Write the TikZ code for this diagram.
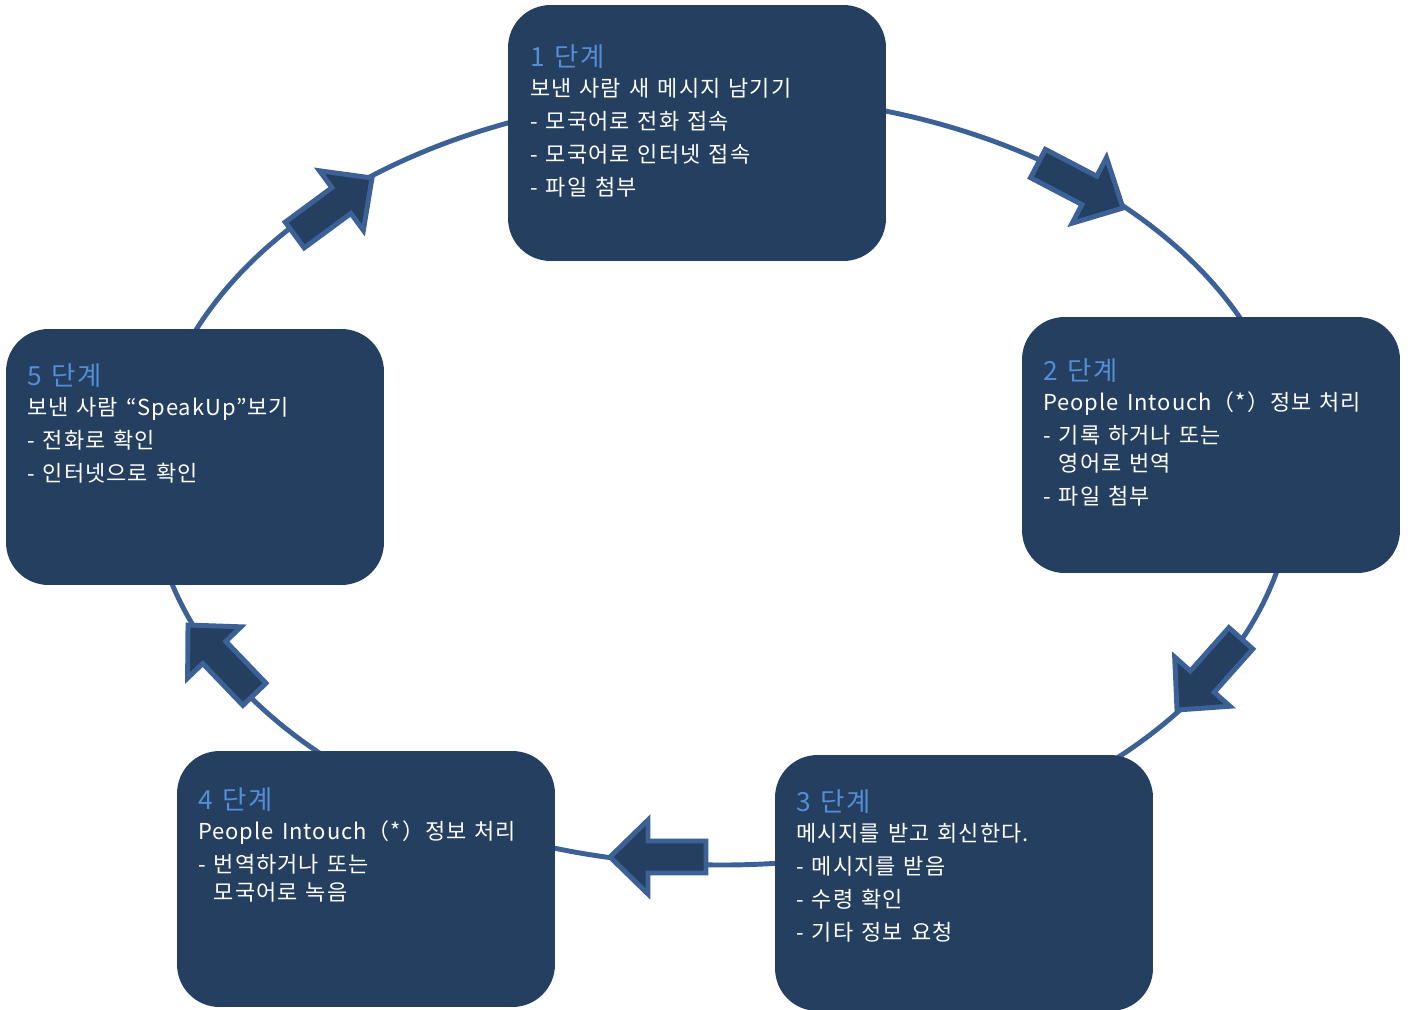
\documentclass[tikz,border=0pt]{standalone}
\usepackage{fontspec}
\setmainfont{Noto Sans CJK KR}[LetterSpace=4.5, WordSpace=1.4]
\usetikzlibrary{positioning}
\definecolor{boxcol}{HTML}{243F60}
\definecolor{ringcol}{HTML}{3B6196}
\definecolor{titlecol}{HTML}{558ED5}
\newcommand{\steptitle}[1]{{\color{titlecol}\fontsize{15pt}{18pt}\selectfont #1}\\[-0.06cm]}

\begin{document}
\begin{tikzpicture}[x=0.02cm, y=0.02cm,
    stepbox/.style={fill=boxcol, rounded corners=0.85cm, minimum width=7.56cm, minimum height=5.12cm, inner sep=0pt},
    steptext/.style={anchor=north west, text=white, align=left, inner sep=0pt, font=\fontsize{12.5pt}{0.66cm}\selectfont},
    ring/.style={draw=ringcol, line width=2.8pt},
    blockarrow/.pic={\draw[fill=boxcol, draw=ringcol, line width=2.8pt, line join=miter]
        (0,0) -- (-38,37) -- (-38,16) -- (-96,16) -- (-96,-16) -- (-38,-16) -- (-38,-37) -- cycle;}]
    \useasboundingbox (0,0) rectangle (1408,1009);

    \draw[ring] (722,529) ellipse [x radius=571, y radius=385]; % the cycle

    \node[stepbox] (s1) at (697,876) {};
    \node[stepbox] (s2) at (1211,564) {};
    \node[stepbox] (s3) at (964,126) {};
    \node[stepbox] (s4) at (366,130) {};
    \node[stepbox] (s5) at (195,552) {};

    \node[steptext] (t1) at ([shift={(22,-40)}]s1.north west) {\steptitle{1 단계}
        보낸 사람 새 메시지 남기기\\
        - 모국어로 전화 접속\\
        - 모국어로 인터넷 접속\\
        - 파일 첨부};
    \node[steptext] (t2) at ([shift={(21,-42)}]s2.north west) {\steptitle{2 단계}
        People Intouch（*）정보 처리\\
        - 기록 하거나 또는\\[-0.11cm]
        \phantom{- }영어로 번역\\
        - 파일 첨부};
    \node[steptext] (t3) at ([shift={(21,-35)}]s3.north west) {\steptitle{3 단계}
        메시지를 받고 회신한다.\\
        - 메시지를 받음\\
        - 수령 확인\\
        - 기타 정보 요청};
    \node[steptext] (t4) at ([shift={(21,-37)}]s4.north west) {\steptitle{4 단계}
        People Intouch（*）정보 처리\\
        - 번역하거나 또는\\[-0.11cm]
        \phantom{- }모국어로 녹음};
    \node[steptext] (t5) at ([shift={(21,-35)}]s5.north west) {\steptitle{5 단계}
        보낸 사람 “SpeakUp”보기\\
        - 전화로 확인\\
        - 인터넷으로 확인};

    % block arrows on the ring
    \foreach \tip/\ang in {{(1123,801)}/-27.6, {(1177,299)}/228.3, {(610,152)}/180, {(188,384)}/133.8, {(372,831)}/36.4}
        \pic[rotate=\ang] at \tip {blockarrow};
\end{tikzpicture}
\end{document}
